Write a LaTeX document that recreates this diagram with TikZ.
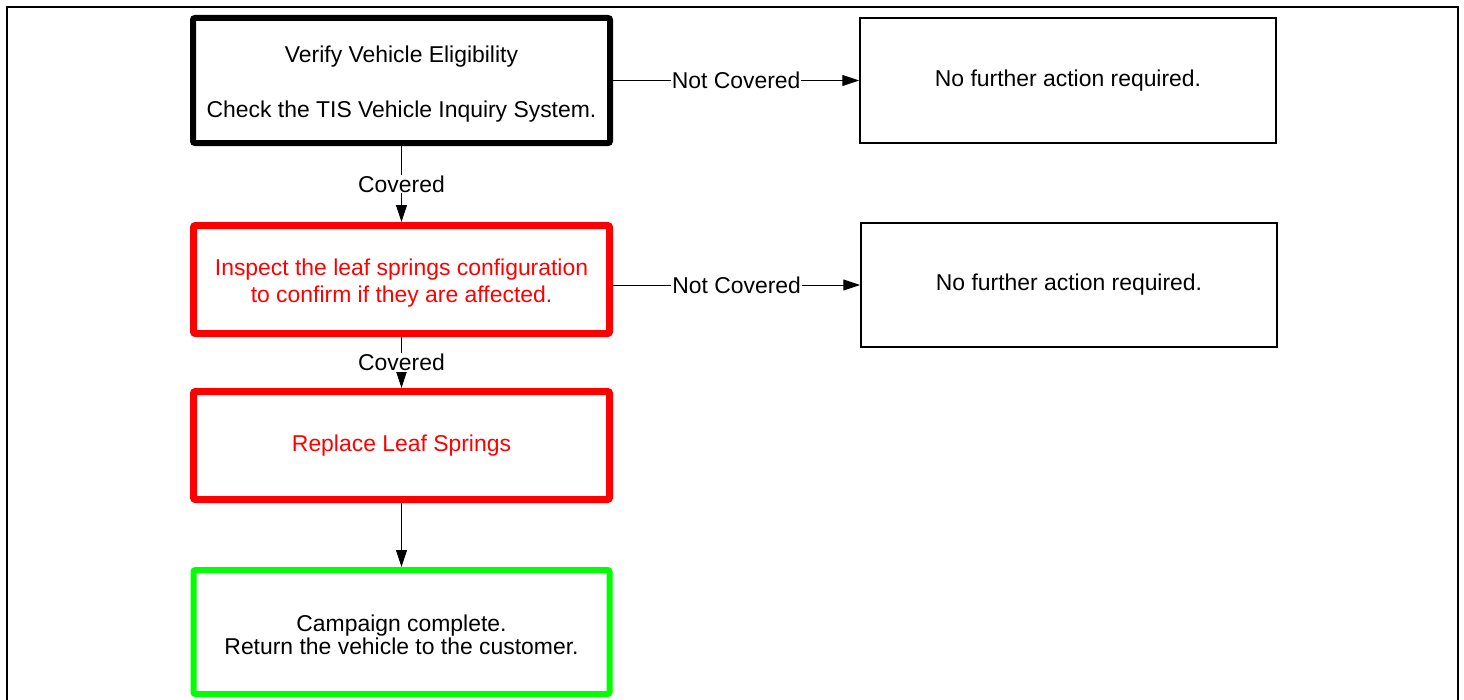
\documentclass[tikz,border=0pt]{standalone}
\usepackage{fontspec}
\setmainfont{Liberation Sans}
\usetikzlibrary{arrows.meta}
\definecolor{pred}{RGB}{255,0,0}
\definecolor{pgreen}{RGB}{0,255,0}
\tikzset{
  box/.style={draw, rectangle, rounded corners=2bp, align=center, inner sep=0pt,
    font=\fontsize{23}{27}\selectfont},
  thickbox/.style={box, line width=6bp},
  redbox/.style={box, draw=pred, line width=7bp, text=pred},
  greenbox/.style={box, draw=pgreen, line width=6bp},
  thinbox/.style={box, line width=1.5bp, rounded corners=0pt},
  conn/.style={line width=1bp, -{Triangle[length=17bp,width=11bp]}},
  elabel/.style={fill=white, inner sep=1bp, font=\fontsize{23}{27}\selectfont}
}
\begin{document}
\begin{tikzpicture}[x=1bp,y=-1bp]
\useasboundingbox (0,0) rectangle (1464,700);
\draw[line width=2bp] (7,705) -- (7,7) -- (1458,7) -- (1458,705);

\node[thickbox, minimum width=417bp, minimum height=125bp] (verify) at (401.5,80.5)
  {\\[-4bp]Verify Vehicle Eligibility\\[28bp]Check the TIS Vehicle Inquiry System.};
\node[thinbox, minimum width=416bp, minimum height=125bp] (nf1) at (1068,80.5)
  {No further action required.};
\node[redbox, minimum width=416bp, minimum height=108bp] (inspect) at (401.5,279.5)
  {\\[-4bp]Inspect the leaf springs configuration\\to confirm if they are affected.};
\node[thinbox, minimum width=416bp, minimum height=124bp] (nf2) at (1069,285)
  {No further action required.};
\node[redbox, minimum width=416bp, minimum height=108bp] (replace) at (401.5,445.5)
  {Replace Leaf Springs};
\node[greenbox, minimum width=416bp, minimum height=124bp] (done) at (401.5,632)
  {\\[-4bp]Campaign complete.\\[-4bp]Return the vehicle to the customer.};

\draw[conn] (verify.east |- nf1.west) -- node[elabel, pos=0.5]{Not Covered} (nf1.west);
\draw[conn] (inspect.east |- nf2.west) -- node[elabel, pos=0.5]{Not Covered} (nf2.west);
\draw[conn] (verify.south) -- node[elabel]{Covered} (inspect.north);
\draw[conn] (inspect.south) -- node[elabel]{Covered} (replace.north);
\draw[conn] (replace.south) -- (done.north);
\end{tikzpicture}
\end{document}
